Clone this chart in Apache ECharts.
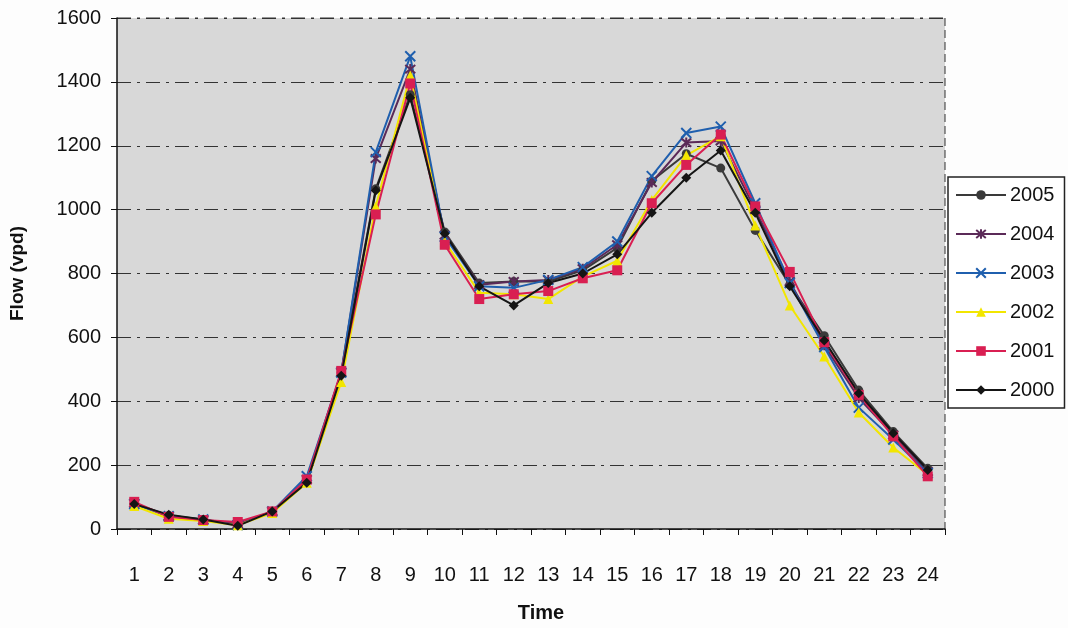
<!DOCTYPE html>
<html>
<head>
<meta charset="utf-8">
<script src="https://cdn.jsdelivr.net/npm/echarts@6/dist/echarts.min.js"></script>
<style>
  html, body { margin: 0; padding: 0; background: #fff; }
  #chart { width: 1068px; height: 628px; }
</style>
</head>
<body>
<div id="chart"></div>
<script>
// hours of the day
const hours = ['1','2','3','4','5','6','7','8','9','10','11','12','13','14','15','16','17','18','19','20','21','22','23','24'];

// flow (vpd) per year
const flow2005 = [80, 42, 30, 15, 55, 150, 490, 1065, 1360, 930, 770, 775, 775, 810, 880, 1090, 1175, 1130, 935, 765, 605, 435, 305, 190];
const flow2004 = [80, 40, 28, 15, 55, 155, 490, 1160, 1440, 920, 765, 775, 780, 815, 890, 1085, 1210, 1215, 1000, 775, 575, 410, 295, 180];
const flow2003 = [78, 40, 30, 12, 55, 165, 490, 1180, 1480, 915, 760, 755, 780, 820, 900, 1105, 1240, 1260, 1020, 770, 570, 380, 280, 175];
const flow2002 = [72, 32, 25, 12, 50, 145, 460, 1010, 1420, 900, 740, 735, 720, 790, 840, 1030, 1170, 1230, 950, 700, 540, 365, 255, 170];
const flow2001 = [85, 38, 28, 22, 55, 155, 495, 985, 1395, 890, 720, 735, 745, 785, 810, 1020, 1140, 1235, 1010, 805, 585, 420, 290, 165];
const flow2000 = [78, 45, 30, 10, 55, 145, 480, 1060, 1350, 925, 760, 700, 770, 800, 860, 990, 1100, 1185, 990, 760, 590, 425, 300, 185];

const yTicks = [0, 200, 400, 600, 800, 1000, 1200, 1400, 1600];

const FONT = '"Liberation Sans", Arial, sans-serif';

const crossPath = 'path://M0,0L10,10M10,0L0,10';
const starPath = 'path://M0,0L10,10M10,0L0,10M5,-1L5,11';

const makeSeries = (name, data, color, symbol, size, stroked) => ({
  name: name,
  type: 'line',
  data: data,
  symbol: symbol,
  symbolSize: size,
  showAllSymbol: true,
  lineStyle: { color: color, width: 2 },
  itemStyle: stroked
    ? { color: color, borderColor: color, borderWidth: 2 }
    : { color: color, borderWidth: 0 },
  emphasis: { disabled: true }
});

const chart = echarts.init(document.getElementById('chart'));

const option = {
  animation: false,
  backgroundColor: '#fdfdfd',
  textStyle: { fontFamily: FONT },
  grid: {
    left: 117,
    right: 123,
    top: 18,
    bottom: 96,
    show: true,
    backgroundColor: '#d8d8d8',
    borderWidth: 0
  },
  legend: {
    orient: 'vertical',
    left: 948,
    top: 177,
    padding: [8, 10, 8, 7],
    itemGap: 19,
    itemWidth: 50,
    itemHeight: 12,
    borderColor: '#222',
    borderWidth: 1.5,
    backgroundColor: '#ffffff',
    textStyle: { fontSize: 20, color: '#111', fontFamily: FONT, padding: [0, 0, 0, -1] },
    data: ['2005', '2004', '2003', '2002', '2001', '2000']
  },
  xAxis: {
    type: 'category',
    data: hours,
    name: 'Time',
    nameLocation: 'middle',
    nameGap: 74,
    nameTextStyle: { fontSize: 20, fontWeight: 'bold', color: '#111', fontFamily: FONT, padding: [0, 0, 0, 20] },
    axisLine: { lineStyle: { color: '#111', width: 1.5 } },
    axisTick: { show: true, length: 6, lineStyle: { color: '#111' } },
    axisLabel: { fontSize: 20, color: '#111', margin: 36, interval: 0 },
    splitLine: { show: false }
  },
  yAxis: {
    type: 'value',
    min: yTicks[0],
    max: yTicks[yTicks.length - 1],
    interval: 200,
    name: 'Flow (vpd)',
    nameLocation: 'middle',
    nameGap: 90,
    nameTextStyle: { fontSize: 19, fontWeight: 'bold', color: '#111', fontFamily: FONT },
    axisLine: { show: true, lineStyle: { color: '#111', width: 1.5 } },
    axisTick: { show: true, length: 6, lineStyle: { color: '#111' } },
    axisLabel: { fontSize: 20, color: '#111', margin: 16, formatter: (v) => String(v) },
    splitLine: { show: true, lineStyle: { color: '#333', type: [14, 6, 3, 6], width: 1 } }
  },
  series: [
    makeSeries('2005', flow2005, '#3a3a3a', 'circle', 9, false),
    makeSeries('2004', flow2004, '#5b2a58', starPath, 10, true),
    makeSeries('2003', flow2003, '#1f5fae', crossPath, 10, true),
    makeSeries('2002', flow2002, '#f2e600', 'triangle', 10, false),
    makeSeries('2001', flow2001, '#d91f52', 'rect', 10, false),
    makeSeries('2000', flow2000, '#151515', 'diamond', 10, false)
  ]
};

chart.setOption(option);

// dashed right and top borders of the plot area
chart.setOption({
  graphic: [{
    type: 'line',
    shape: { x1: 945, y1: 18, x2: 945, y2: 532 },
    style: { stroke: '#333', lineWidth: 1, lineDash: [8, 4] },
    silent: true
  }, {
    type: 'line',
    shape: { x1: 117, y1: 18, x2: 945, y2: 18 },
    style: { stroke: '#333', lineWidth: 1, lineDash: [14, 6, 3, 6] },
    silent: true
  }]
});

window.addEventListener('resize', () => {
  chart.resize();
});
</script>
</body>
</html>
